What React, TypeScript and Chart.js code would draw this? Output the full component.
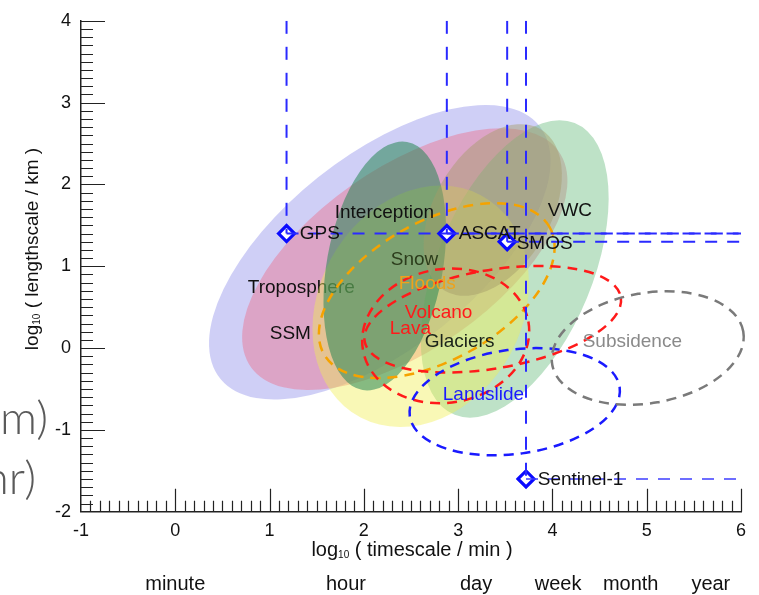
import React, { useEffect, useRef } from 'react';
import { Chart, registerables } from 'chart.js';

Chart.register(...registerables);

const FONT = '"Liberation Sans", Arial, Helvetica, sans-serif';

// axis ranges and tick labels
const xMin = -1;
const xMax = 6;
const yMin = -2;
const yMax = 4;
const xTickValues = [-1, 0, 1, 2, 3, 4, 5, 6];
const yTickValues = [-2, -1, 0, 1, 2, 3, 4];

// sensors: log10(timescale/min), log10(lengthscale/km)
const sensorNames = ['GPS', 'ASCAT', 'SMOS', 'Sentinel-1'];
const sensorTime = [1.18, 2.88, 3.52, 3.72];
const sensorLength = [1.4, 1.4, 1.3, -1.6];

// shaded process domains: centre and two semi-axis vectors (data units)
const areaNames = ['Troposphere', 'SSM', 'VWC', 'Yellow', 'Snow', 'Interception'];
const areaCx = [2.169, 2.434, 3.6, 2.603, 2.222, 3.367];
const areaCy = [1.171, 1.087, 0.967, 0.51, 1.003, 1.688];
const areaUx = [1.689, 1.629, 0.636, 0.637, 0.236, 0.504];
const areaUy = [1.55, 1.323, 1.783, 1.359, 1.516, 0.989];
const areaVx = [0.654, 0.568, 0.767, 0.955, 0.606, 0.533];
const areaVy = [-0.916, -0.899, -0.352, -0.575, -0.121, -0.349];

// dashed hazard domains
const hazardNames = ['Floods', 'Volcano', 'Lava', 'Landslide', 'Subsidence'];
const hazardCx = [2.773, 3.367, 2.868, 3.6, 5.011];
const hazardCy = [0.702, 0.353, 0.149, -0.656, 0.0];
const hazardUx = [1.194, 1.358, 0.877, 1.113, 1.013];
const hazardUy = [0.782, 0.272, 0.176, 0.177, 0.203];
const hazardVx = [0.371, 0.092, 0.125, 0.078, 0.103];
const hazardVy = [-0.729, -0.592, -0.805, -0.631, -0.663];

// text labels (left anchor, data units)
const labelTexts = ['Troposphere', 'Snow', 'Floods', 'Interception', 'VWC', 'GPS', 'ASCAT', 'SMOS', 'SSM', 'Volcano', 'Lava', 'Glaciers', 'Landslide', 'Subsidence', 'Sentinel-1'];
const labelX = [0.769, 2.285, 2.37, 1.691, 3.95, 1.32, 3.006, 3.621, 1.002, 2.434, 2.275, 2.646, 2.837, 4.321, 3.844];
const labelY = [0.738, 1.085, 0.786, 1.652, 1.676, 1.398, 1.4, 1.279, 0.173, 0.426, 0.233, 0.077, -0.572, 0.077, -1.606];

// time units under the axis
const unitNames = ['minute', 'hour', 'day', 'week', 'month', 'year'];
const unitX = [0, 1.81, 3.19, 4.06, 4.83, 5.68];

// styles
const areaColors = [
  'rgba(150,150,235,0.46)',
  'rgba(235,110,140,0.45)',
  'rgba(110,190,130,0.45)',
  'rgba(240,238,80,0.42)',
  'rgba(40,135,85,0.55)',
  'rgba(165,155,105,0.45)',
];
const hazardColors = ['#f5a300', '#ff1a1a', '#ff1a1a', '#1a1aff', '#7a7a7a'];
const labelColors = ['#111', '#2c3d1c', '#eea21c', '#111', '#111', '#111', '#111', '#111', '#111', '#ff1a1a', '#ff1a1a', '#1a231a', '#1a1aff', '#8a8a8a', '#111'];
const labelUnder = [true, false, false, false, false, false, false, false, false, false, false, false, false, false, false];

function ellipsePath(ctx: CanvasRenderingContext2D, xs: any, ys: any, i: number, cx: number[], cy: number[], ux: number[], uy: number[], vx: number[], vy: number[]) {
  const px = xs.getPixelForValue(cx[i]);
  const py = ys.getPixelForValue(cy[i]);
  const ax = xs.getPixelForValue(cx[i] + ux[i]) - px;
  const ay = ys.getPixelForValue(cy[i] + uy[i]) - py;
  const bx = xs.getPixelForValue(cx[i] + vx[i]) - px;
  const by = ys.getPixelForValue(cy[i] + vy[i]) - py;
  ctx.save();
  ctx.transform(ax, ay, bx, by, px, py);
  ctx.beginPath();
  ctx.arc(0, 0, 1, 0, Math.PI * 2);
  ctx.closePath();
  ctx.restore();
}

function drawLabel(ctx: CanvasRenderingContext2D, xs: any, ys: any, i: number) {
  ctx.save();
  ctx.font = `19px ${FONT}`;
  ctx.fillStyle = labelColors[i];
  ctx.textAlign = 'left';
  ctx.textBaseline = 'middle';
  ctx.fillText(labelTexts[i], xs.getPixelForValue(labelX[i]), ys.getPixelForValue(labelY[i]));
  ctx.restore();
}

function drawLogTitle(ctx: CanvasRenderingContext2D, rest: string, cx: number, cy: number, rotate: boolean, size: number) {
  ctx.save();
  ctx.translate(cx, cy);
  if (rotate) ctx.rotate(-Math.PI / 2);
  const big = `${size}px ${FONT}`;
  const small = `${Math.round(size * 0.5)}px ${FONT}`;
  ctx.font = big;
  const w1 = ctx.measureText('log').width;
  const w3 = ctx.measureText(rest).width;
  ctx.font = small;
  const w2 = ctx.measureText('10').width;
  let x = -(w1 + w2 + w3) / 2;
  const base = size * 0.36;
  ctx.fillStyle = '#111';
  ctx.textAlign = 'left';
  ctx.textBaseline = 'alphabetic';
  ctx.font = big;
  ctx.fillText('log', x, base);
  x += w1;
  ctx.font = small;
  ctx.fillText('10', x, base + 2);
  x += w2;
  ctx.font = big;
  ctx.fillText(rest, x, base);
  ctx.restore();
}

const domainPlugin = {
  id: 'domains',
  beforeDatasetsDraw(chart: any) {
    const ctx: CanvasRenderingContext2D = chart.ctx;
    const xs = chart.scales.x;
    const ys = chart.scales.y;
    for (let i = 0; i < areaNames.length; i++) {
      ellipsePath(ctx, xs, ys, i, areaCx, areaCy, areaUx, areaUy, areaVx, areaVy);
      ctx.fillStyle = areaColors[i];
      ctx.fill();
      if (i === 1) {
        for (let j = 0; j < labelTexts.length; j++) if (labelUnder[j]) drawLabel(ctx, xs, ys, j);
      }
    }
    ctx.save();
    ctx.lineWidth = 2.5;
    ctx.setLineDash([10, 7]);
    for (let i = 0; i < hazardNames.length; i++) {
      ellipsePath(ctx, xs, ys, i, hazardCx, hazardCy, hazardUx, hazardUy, hazardVx, hazardVy);
      ctx.strokeStyle = hazardColors[i];
      ctx.stroke();
    }
    ctx.restore();
  },
  afterDatasetsDraw(chart: any) {
    const ctx: CanvasRenderingContext2D = chart.ctx;
    const xs = chart.scales.x;
    const ys = chart.scales.y;
    for (let j = 0; j < labelTexts.length; j++) if (!labelUnder[j]) drawLabel(ctx, xs, ys, j);
  },
  afterDraw(chart: any) {
    const ctx: CanvasRenderingContext2D = chart.ctx;
    const xs = chart.scales.x;
    const ys = chart.scales.y;
    const area = chart.chartArea;
    ctx.save();
    ctx.strokeStyle = '#222';
    ctx.lineWidth = 1.2;
    ctx.beginPath();
    for (let k = 1; k < (yMax - yMin) * 10; k++) {
      const v = yMin + k / 10;
      const major = k % 10 === 0;
      const p = Math.round(ys.getPixelForValue(v)) + 0.5;
      ctx.moveTo(area.left, p);
      ctx.lineTo(area.left + (major ? 24 : 12), p);
    }
    for (let k = 1; k <= (xMax - xMin) * 10; k++) {
      const v = xMin + k / 10;
      const major = k % 10 === 0;
      const p = Math.round(xs.getPixelForValue(v)) + 0.5;
      ctx.moveTo(p, area.bottom);
      ctx.lineTo(p, area.bottom - (major ? 23 : 11));
    }
    ctx.moveTo(area.left, Math.round(ys.getPixelForValue(yMax)) + 0.5);
    ctx.lineTo(area.left + 24, Math.round(ys.getPixelForValue(yMax)) + 0.5);
    ctx.stroke();
    ctx.restore();

    drawLogTitle(ctx, ' ( timescale / min )', (area.left + area.right) / 2 + 1, 549, false, 20);
    drawLogTitle(ctx, ' ( lengthscale / km )', 31, 249, true, 19);

    ctx.save();
    ctx.font = `20px ${FONT}`;
    ctx.fillStyle = '#111';
    ctx.textAlign = 'center';
    ctx.textBaseline = 'middle';
    for (let i = 0; i < unitNames.length; i++) {
      ctx.fillText(unitNames[i], xs.getPixelForValue(unitX[i]), 584);
    }
    ctx.fillStyle = '#5a5a5a';
    ctx.font = `300 46px Lato, "Open Sans", sans-serif`;
    ctx.textBaseline = 'alphabetic';
    ctx.textAlign = 'left';
    ctx.fillText('m)', 0, 434);
    ctx.textAlign = 'right';
    ctx.fillText('hr)', 36, 494);
    ctx.restore();
  },
};

export default function App() {
  const ref = useRef<HTMLCanvasElement | null>(null);
  useEffect(() => {
    if (!ref.current) return;
    const lineColor = '#2a2aff';
    const datasets: any[] = [];
    for (let i = 0; i < sensorNames.length; i++) {
      datasets.push({
        label: sensorNames[i] + ' time',
        data: [
          { x: sensorTime[i], y: yMax },
          { x: sensorTime[i], y: sensorLength[i] },
        ],
        showLine: true,
        borderColor: lineColor,
        borderWidth: 2,
        borderDash: [13, 13],
        pointRadius: 0,
      });
      datasets.push({
        label: sensorNames[i] + ' length',
        data: [
          { x: sensorTime[i], y: sensorLength[i] },
          { x: xMax, y: sensorLength[i] },
        ],
        showLine: true,
        borderColor: i === 3 ? 'rgba(60,60,255,0.75)' : lineColor,
        borderWidth: 2,
        borderDash: [12, 10],
        pointRadius: 0,
      });
    }
    datasets.push({
      label: 'sensors',
      data: sensorTime.map((t, i) => ({ x: t, y: sensorLength[i] })),
      pointStyle: 'rectRot',
      pointRadius: 8,
      pointBorderWidth: 3.2,
      borderColor: '#0a0aff',
      backgroundColor: '#ffffff',
      showLine: false,
    });

    const chart = new Chart(ref.current, {
      type: 'scatter',
      data: { datasets },
      options: {
        animation: false,
        responsive: false,
        events: [],
        layout: { padding: { top: 13, right: 18, left: 0, bottom: 0 } },
        plugins: { legend: { display: false }, tooltip: { enabled: false } },
        scales: {
          x: {
            type: 'linear',
            min: xMin,
            max: xMax,
            grid: { display: false, drawTicks: false },
            border: { display: true, color: '#222', width: 1.5 },
            afterBuildTicks: (s: any) => {
              s.ticks = xTickValues.map((v) => ({ value: v }));
            },
            ticks: { font: { family: FONT, size: 18 }, color: '#111', padding: 9 },
            afterFit: (s: any) => {
              s.height = 83.3;
            },
          },
          y: {
            type: 'linear',
            min: yMin,
            max: yMax,
            grid: { display: false, drawTicks: false },
            border: { display: true, color: '#222', width: 1.5 },
            afterBuildTicks: (s: any) => {
              s.ticks = yTickValues.map((v) => ({ value: v }));
            },
            ticks: { font: { family: FONT, size: 18 }, color: '#111', padding: 10 },
            afterFit: (s: any) => {
              s.width = 81;
            },
          },
        },
      },
      plugins: [domainPlugin],
    });
    return () => chart.destroy();
  }, []);
  return (
    <div style={{ position: 'absolute', left: 0, top: 0, width: 759, height: 595, background: '#fff' }}>
      <canvas ref={ref} width={759} height={595} />
    </div>
  );
}
